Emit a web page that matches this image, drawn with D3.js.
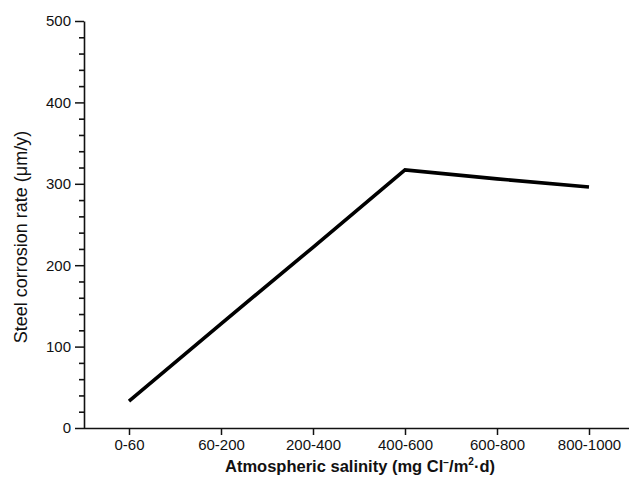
<!DOCTYPE html>
<html>
<head>
<meta charset="utf-8">
<script src="https://cdn.jsdelivr.net/npm/d3@7/dist/d3.min.js"></script>
<style>
  html, body { margin: 0; padding: 0; background: #fff; }
  svg { display: block; font-family: "Liberation Sans", Arial, sans-serif; }
</style>
</head>
<body>
<svg id="chart" width="629" height="490"></svg>
<script>
// Salinity classes (mg Cl-/m2·d) and the corrosion rate of steel for each
const categories = ["0-60", "60-200", "200-400", "400-600", "600-800", "800-1000"];
const corrosionRate = [33, 128, 222, 317, 306, 296];
const yMajorTicks = [0, 100, 200, 300, 400, 500];
const yMinorTicks = [20, 40, 60, 80, 120, 140, 160, 180, 220, 240, 260, 280,
                     320, 340, 360, 380, 420, 440, 460, 480];

const svg = d3.select("#chart");
const axisLeft = 84, axisRight = 629, axisTop = 21, axisBottom = 428;

const x = d3.scalePoint().domain(categories).range([129, 589]);
const y = d3.scaleLinear().domain([0, 500]).range([axisBottom, axisTop]);

const axisColor = "#111";

// y axis minor ticks (drawn as a tick-only axis with no labels)
const gyMinor = svg.append("g").attr("transform", `translate(${axisLeft},0)`)
  .call(d3.axisLeft(y).tickValues(yMinorTicks).tickSize(5).tickFormat(() => ""));
gyMinor.select(".domain").remove();
gyMinor.selectAll(".tick line").attr("stroke", axisColor).attr("stroke-width", 1.6);

// y axis: major ticks with labels
const gy = svg.append("g").attr("transform", `translate(${axisLeft},0)`);
gy.call(d3.axisLeft(y).tickValues(yMajorTicks).tickSize(9).tickSizeOuter(0).tickPadding(4));
gy.selectAll("line").attr("stroke", axisColor).attr("stroke-width", 1.5);
gy.select(".domain").attr("stroke", axisColor).attr("stroke-width", 1.6);

// x axis
const gx = svg.append("g").attr("transform", `translate(0,${axisBottom})`);
gx.call(d3.axisBottom(x).tickSize(7).tickSizeOuter(0).tickPadding(4));
gx.select(".domain").attr("d", `M${axisLeft},0.5H${axisRight}`)
  .attr("stroke", axisColor).attr("stroke-width", 1.6);
gx.selectAll("line").attr("stroke", axisColor).attr("stroke-width", 1.5);

svg.selectAll(".tick text")
  .attr("font-family", "'Liberation Sans', Arial, sans-serif")
  .attr("font-size", 15)
  .attr("fill", "#111");

// corrosion rate curve
const line = d3.line()
  .x((d, i) => x(categories[i]))
  .y(d => y(d));
svg.append("path")
  .datum(corrosionRate)
  .attr("d", line)
  .attr("fill", "none")
  .attr("stroke", "#000")
  .attr("stroke-width", 3.6)
  .attr("stroke-linejoin", "miter");

// axis titles
const xt = svg.append("text")
  .attr("x", 360).attr("y", 472)
  .attr("text-anchor", "middle")
  .attr("font-size", 16.5).attr("font-weight", "bold").attr("fill", "#111");
xt.append("tspan").text("Atmospheric salinity (mg Cl");
xt.append("tspan").attr("dy", -6).attr("font-size", 10).text("−");
xt.append("tspan").attr("dy", 6).text("/m");
xt.append("tspan").attr("dy", -7).attr("font-size", 10).text("2");
xt.append("tspan").attr("dy", 7).text("·d)");

svg.append("text")
  .attr("transform", `translate(27,237) rotate(-90)`)
  .attr("text-anchor", "middle")
  .attr("font-size", 18).attr("fill", "#111")
  .text("Steel corrosion rate (μm/y)");
</script>
</body>
</html>
